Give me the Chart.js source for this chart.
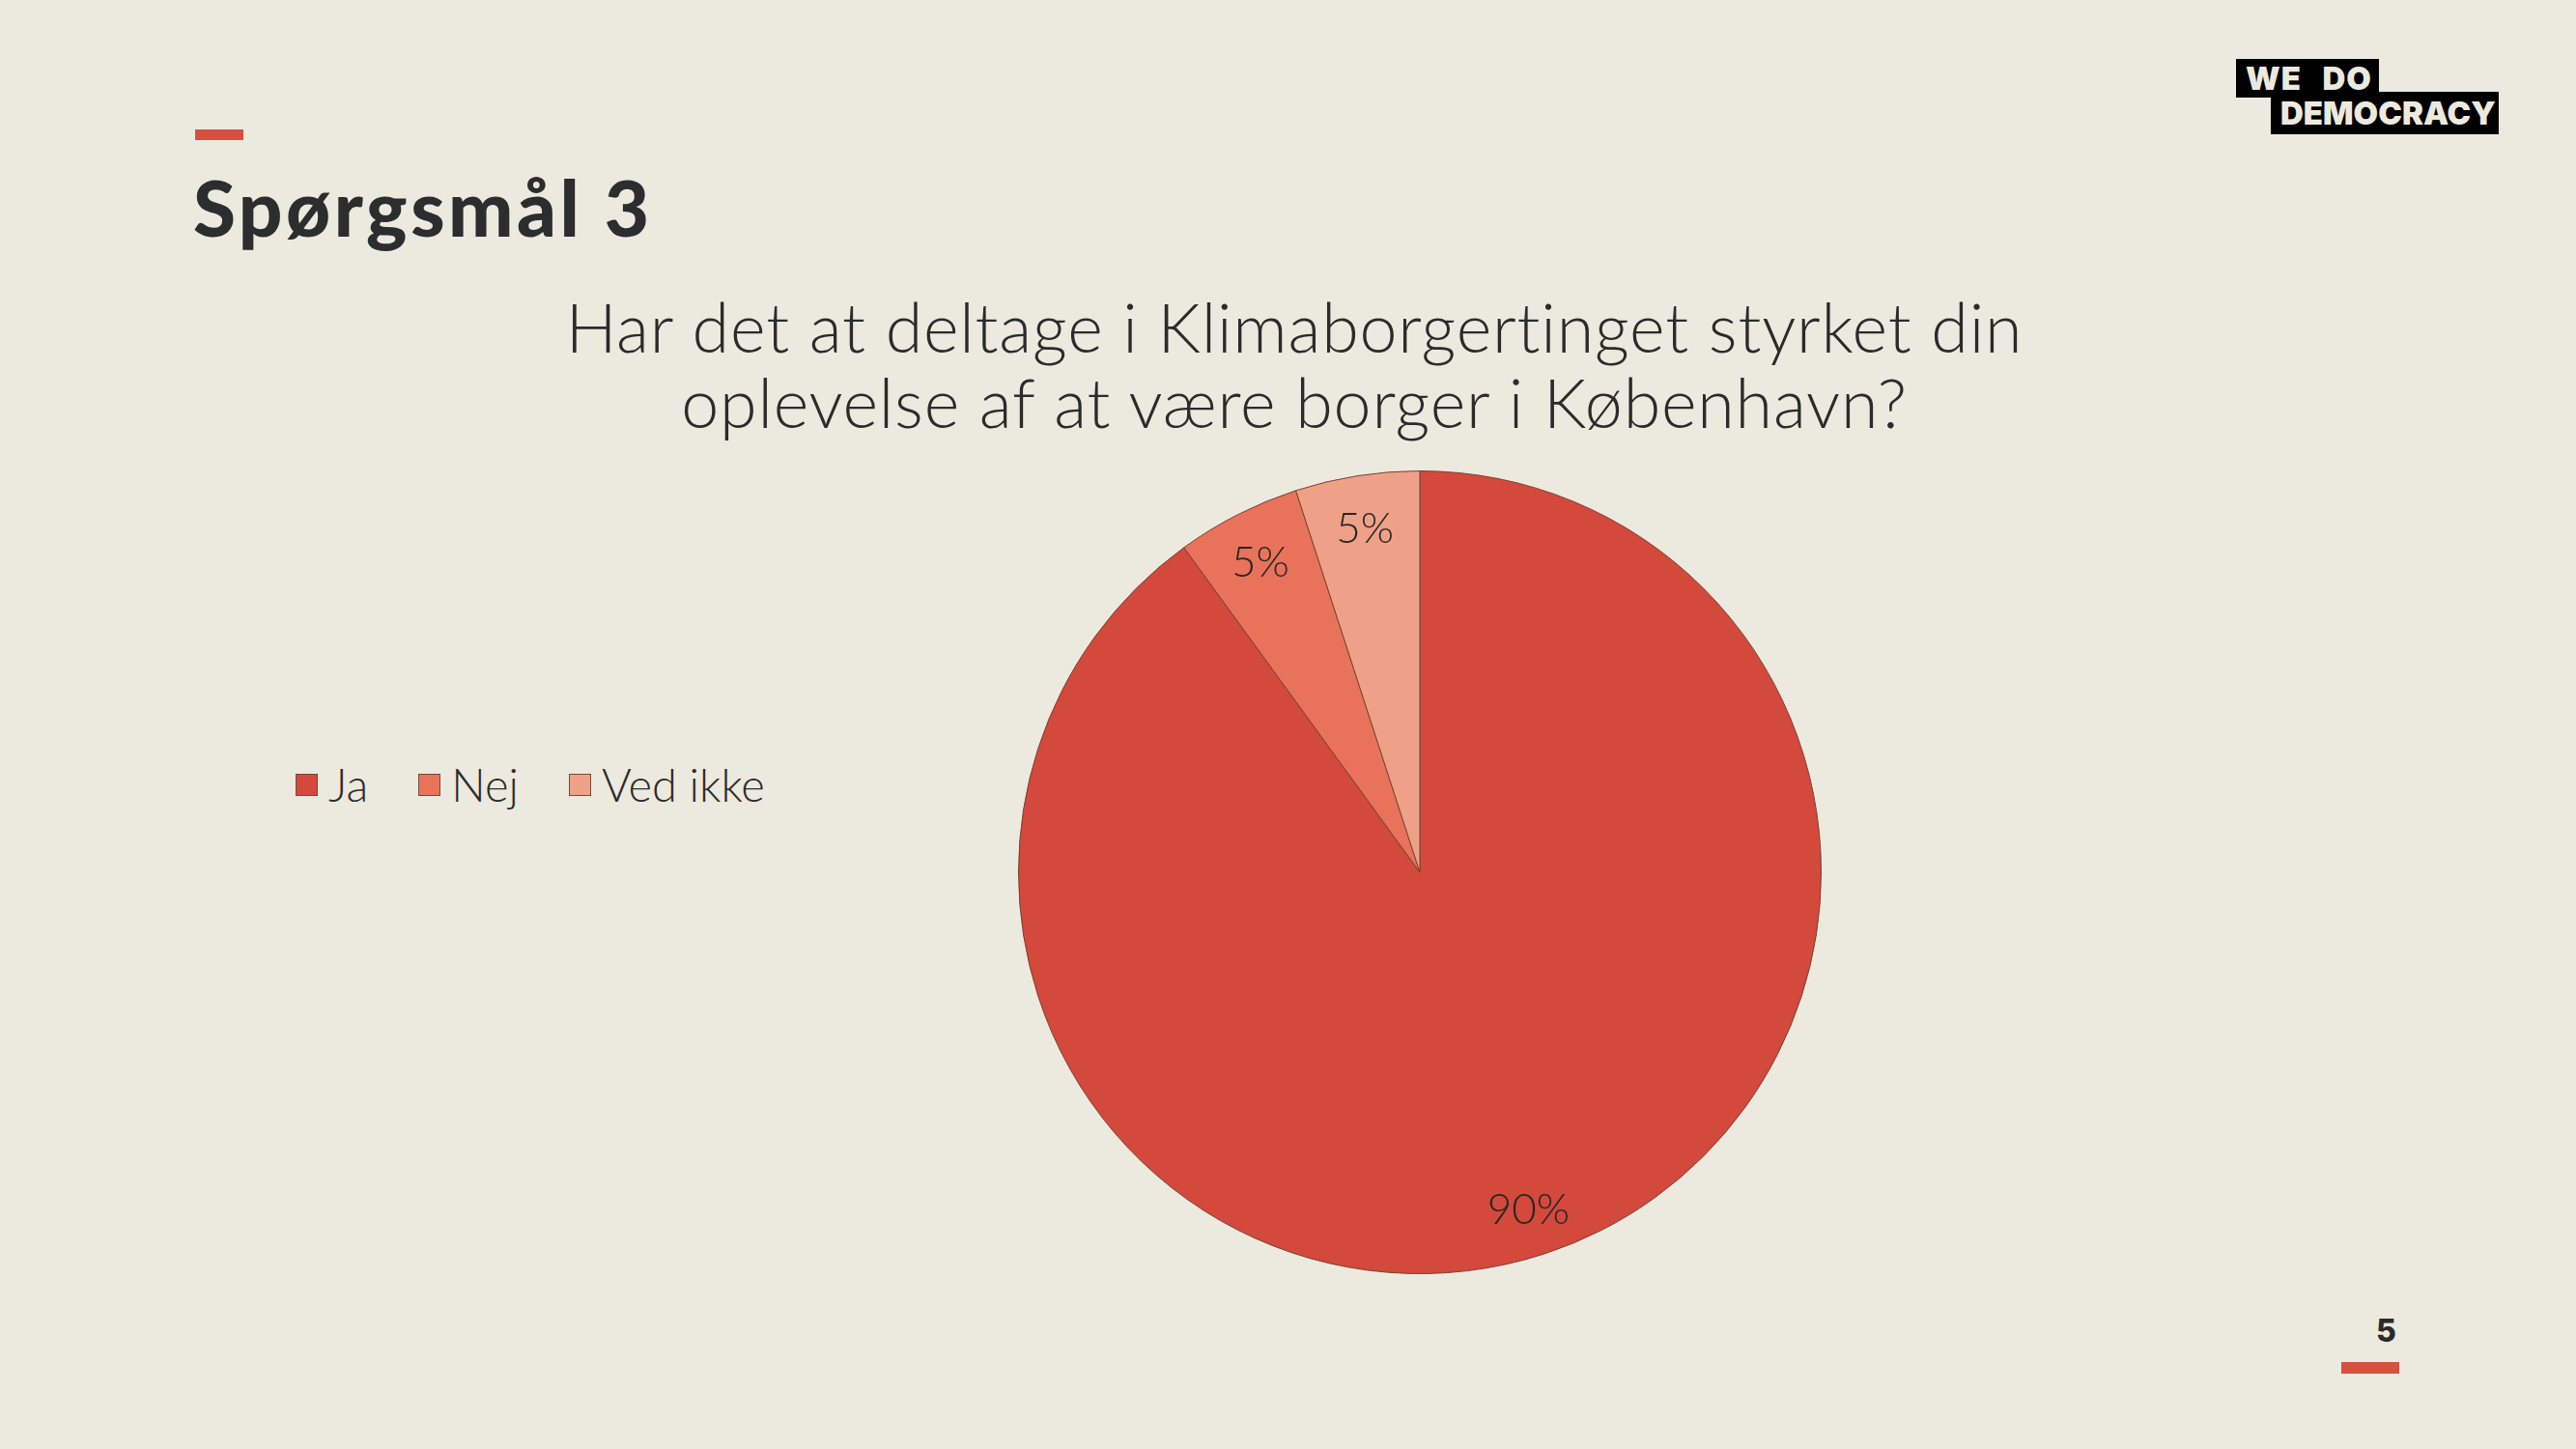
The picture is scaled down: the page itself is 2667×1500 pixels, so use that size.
<!DOCTYPE html>
<html>
<head>
    <title>Spørgsmål 3</title>
    <script src="https://cdn.jsdelivr.net/npm/chart.js@4.4.0/dist/chart.umd.min.js"></script>
    <style>
        html, body {
            margin: 0;
            padding: 0;
            width: 2667px;
            height: 1500px;
            background: #ECE9DF;
            overflow: hidden;
            font-family: "Lato", "Noto Sans", sans-serif;
            color: #2b2b2b;
        }
        .bar {
            position: absolute;
            background: #D6503F;
        }
        #heading {
            position: absolute;
            left: 200px;
            top: 166px;
            font-size: 80px;
            font-weight: 900;
            letter-spacing: 3.5px;
            color: #2b2d2e;
        }
        #question {
            position: absolute;
            left: 440px;
            width: 1800px;
            top: 299px;
            text-align: center;
            font-size: 70px;
            font-weight: 300;
            letter-spacing: 0.8px;
            line-height: 78px;
            color: #2b2b2b;
        }
        #legend {
            position: absolute;
            left: 306px;
            top: 784px;
            font-size: 47px;
            font-weight: 300;
            display: flex;
        }
        #legend span.item { display: flex; align-items: center; margin-right: 52px; }
        #legend span.box {
            width: 21px; height: 21px; margin-right: 11px;
            border: 1px solid #7a4a3e;
        }
        #pie {
            position: absolute;
            left: 1054px;
            top: 487px;
        }
        .logo {
            position: absolute;
            background: #000;
            color: #ECE9DF;
            font-family: "Inter", sans-serif;
            font-weight: 900;
            font-size: 33px;
            line-height: 40px;
            padding-left: 10px;
        }
        #pagenum {
            position: absolute;
            left: 2460px;
            top: 1358px;
            font-family: "Inter", sans-serif;
            font-weight: 800;
            font-size: 32px;
        }
    </style>
</head>
<body>
    <div class="bar" style="left:202px; top:134px; width:50px; height:11px;"></div>
    <div id="heading">Spørgsmål 3</div>
    <div id="question">Har det at deltage i Klimaborgertinget styrket din<br>oplevelse af at være borger i København?</div>

    <div class="logo" style="left:2315px; top:61px; width:138px; height:40px; word-spacing:14px; letter-spacing:1px;">WE DO</div>
    <div class="logo" style="left:2351px; top:95px; width:226px; height:44px; line-height:44px;">DEMOCRACY</div>

    <div id="pagenum">5</div>
    <div class="bar" style="left:2424px; top:1410px; width:60px; height:12px;"></div>

    <div id="legend"></div>
    <canvas id="pie" width="832" height="832"></canvas>

    <script>
        var labels = ['Ja', 'Nej', 'Ved ikke'];
        var values = [90, 5, 5];
        var colors = ['#D3493C', '#E8735A', '#EEA187'];

        // legend built from the same arrays
        var legend = document.getElementById('legend');
        for (var i = 0; i < labels.length; i++) {
            var item = document.createElement('span');
            item.className = 'item';
            item.innerHTML = '<span class="box" style="background:' + colors[i] + '"></span>' + labels[i];
            legend.appendChild(item);
        }

        var percentLabels = {
            id: 'percentLabels',
            afterDatasetsDraw: function (chart) {
                var ctx = chart.ctx;
                var meta = chart.getDatasetMeta(0);
                ctx.save();
                ctx.font = '300 44px Lato';
                ctx.fillStyle = '#262626';
                ctx.textAlign = 'center';
                ctx.textBaseline = 'middle';
                meta.data.forEach(function (arc, i) {
                    var mid = (arc.startAngle + arc.endAngle) / 2;
                    var r = arc.outerRadius * 0.875;
                    ctx.fillText(values[i] + '%', arc.x + Math.cos(mid) * r, arc.y + Math.sin(mid) * r + 4);
                });
                ctx.restore();
            }
        };

        var ctx = document.getElementById('pie').getContext('2d');
        var myChart = new Chart(ctx, {
            type: 'pie',
            data: {
                labels: labels,
                datasets: [{
                    data: values,
                    backgroundColor: colors,
                    borderColor: '#7a4034',
                    borderWidth: 1
                }]
            },
            options: {
                responsive: false,
                animation: false,
                layout: { padding: 0 },
                plugins: {
                    legend: { display: false },
                    tooltip: { enabled: false }
                }
            },
            plugins: [percentLabels]
        });
    </script>
</body>
</html>
